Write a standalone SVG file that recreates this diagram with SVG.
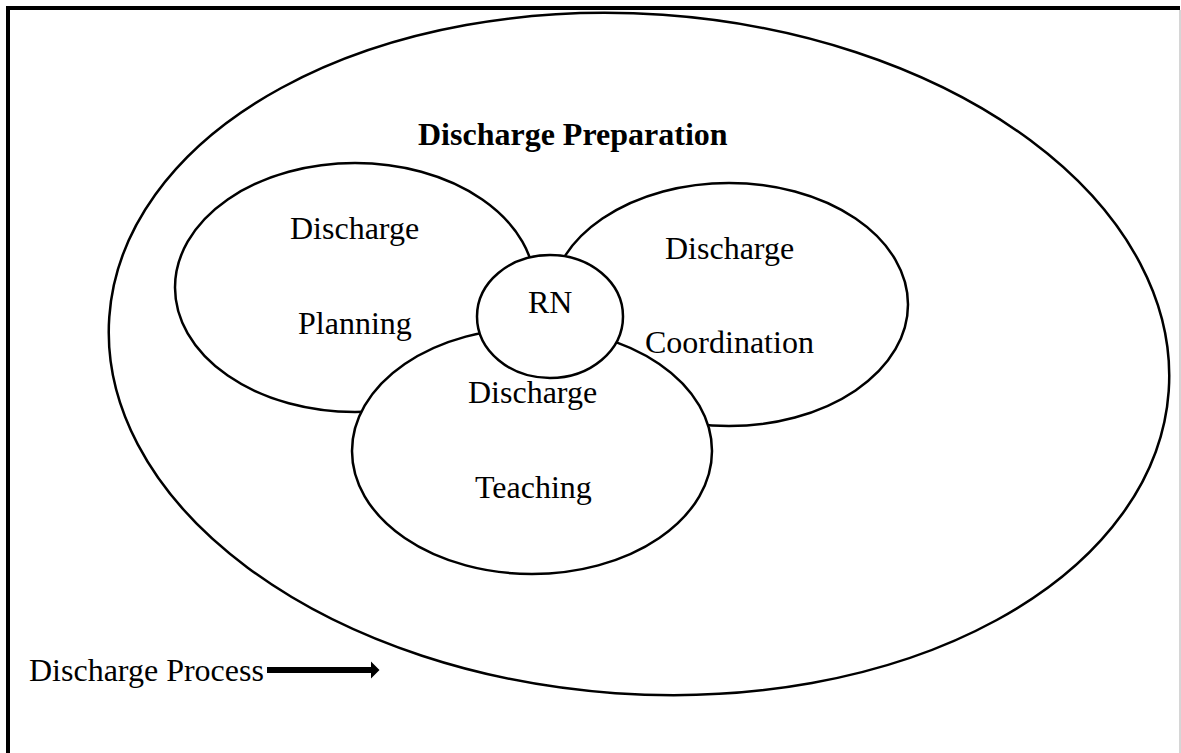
<svg xmlns="http://www.w3.org/2000/svg" width="1181" height="753" viewBox="0 0 1181 753">
<style>
.sh{fill:#fff;stroke:#000;stroke-width:2.5}
.t{font-family:"Liberation Serif","Times New Roman",serif;font-size:32px;fill:#000}
.b{font-weight:bold}
</style>
<rect x="0" y="0" width="1181" height="753" fill="#fff"/>
<g id="outer">
<ellipse class="sh" cx="639" cy="354" rx="531" ry="340" transform="rotate(4 639 354)"/>
<text class="t b" x="418" y="145">Discharge Preparation</text>
</g>
<g id="frame">
<path d="M8,800 L8,8 L1180,8" fill="none" stroke="#000" stroke-width="4"/>
<line x1="1180" y1="10" x2="1180" y2="753" stroke="#c8c8c8" stroke-width="1.5"/>
</g>
<g id="planning">
<ellipse class="sh" cx="355" cy="287.5" rx="180" ry="124.5"/>
<text class="t" x="290" y="239">Discharge</text>
<text class="t" x="298" y="334">Planning</text>
</g>
<g id="coordination">
<ellipse class="sh" cx="729" cy="304.5" rx="179" ry="121.5"/>
<text class="t" x="665" y="259">Discharge</text>
<text class="t" x="645" y="353">Coordination</text>
</g>
<g id="teaching">
<ellipse class="sh" cx="532" cy="451" rx="180" ry="123"/>
<text class="t" x="468" y="403">Discharge</text>
<text class="t" x="475" y="498">Teaching</text>
</g>
<g id="rn">
<ellipse class="sh" cx="550" cy="316.5" rx="73" ry="61.5"/>
<text class="t" x="528" y="313">RN</text>
</g>
<g id="process">
<text class="t" x="29" y="681">Discharge Process</text>
</g>
<g id="connectors">
<path d="M267,667 L371,667 L371,661.5 L379.5,670 L371,678.5 L371,673 L267,673 Z" fill="#000"/>
</g>
</svg>
